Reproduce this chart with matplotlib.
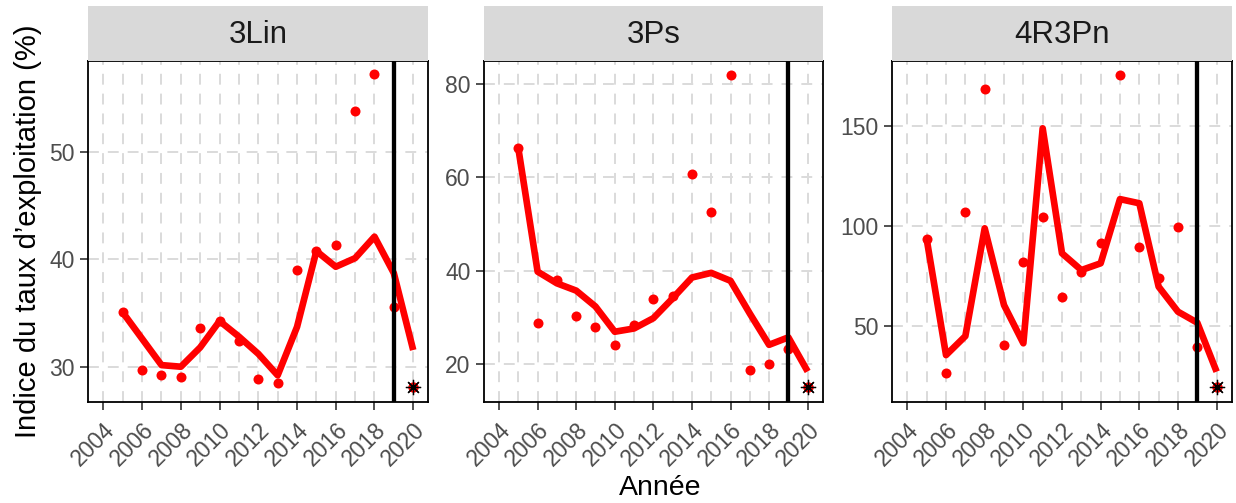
import matplotlib
matplotlib.use("Agg")
import matplotlib.pyplot as plt
import numpy as np

plt.rcParams['font.family'] = ['Liberation Sans', 'DejaVu Sans']

# data
years = list(range(2005, 2021))
obs_years = list(range(2005, 2020))
stocks = ["3Lin", "3Ps", "4R3Pn"]

pts_3lin = [35.05, 29.7, 29.2, 29.0, 33.6, 34.3, 32.4, 28.9, 28.5, 39.0, 40.8, 41.3, 53.8, 57.2, 35.6]
pts_3ps = [66.15, 28.7, 38.0, 30.3, 28.0, 24.1, 28.3, 33.8, 34.6, 60.7, 52.5, 81.9, 18.7, 19.9, 23.1]
pts_4r3pn = [93.2, 26.2, 107.0, 168.5, 40.3, 81.7, 104.5, 64.5, 77.0, 91.2, 175.3, 89.5, 73.7, 99.5, 39.5]

line_3lin = [35.05, 32.6, 30.15, 30.0, 31.8, 34.25, 32.8, 31.2, 29.2, 33.7, 40.76, 39.3, 40.1, 42.1, 38.7, 31.55]
line_3ps = [66.15, 39.76, 37.26, 35.7, 32.3, 26.9, 27.6, 29.8, 34.05, 38.5, 39.5, 37.8, 30.8, 24.1, 25.7, 18.4]
line_4r3pn = [93.2, 35.3, 44.8, 98.7, 60.3, 41.2, 148.7, 86.2, 77.8, 81.2, 113.3, 111.2, 69.5, 57.0, 51.5, 27.0]

star_year = 2020
star_vals = [28.1, 15.0, 19.2]
ref_year = 2019

yticks = [[30, 40, 50], [20, 40, 60, 80], [50, 100, 150]]
ylims = [(26.69, 58.47), (11.8, 84.9), (11.7, 182.5)]
xticks = list(range(2004, 2021, 2))

points = [pts_3lin, pts_3ps, pts_4r3pn]
lines = [line_3lin, line_3ps, line_4r3pn]

W, H = 1236, 503
fig = plt.figure(figsize=(W / 100, H / 100), dpi=100)

lefts = [88.3, 484.0, 892.3]
rights = [428.3, 822.7, 1231.7]
top, bottom = 60.7, 402.3
strip_top = 6.0
grid_ls = (0, (5.6, 4.6))

for i in range(3):
    x0 = lefts[i] / W
    w = (rights[i] - lefts[i]) / W
    ax = fig.add_axes([x0, 1 - bottom / H, w, (bottom - top) / H])

    # grid: every year on x, major ticks on y
    for yr in range(2004, 2021):
        ax.axvline(yr, color='#DBDBDB', lw=1.4, ls=grid_ls, zorder=0)
    for yt in yticks[i]:
        ax.axhline(yt, color='#DBDBDB', lw=1.4, ls=grid_ls, zorder=0)

    ax.plot(years, lines[i], color='#FF0000', lw=4.8,
            solid_capstyle='butt', solid_joinstyle='round', zorder=2)
    ax.scatter(obs_years, points[i], s=52, color='#FF0000', lw=0, zorder=3)
    ax.axvline(ref_year, color='black', lw=3.1, zorder=4)
    ax.plot([star_year], [star_vals[i]], 'o', color='#FF0000', ms=7.5, mew=0, zorder=5)
    ax.plot([star_year], [star_vals[i]], marker=(8, 2, 0), color='black', ms=11, mew=0.9,
            ls='none', zorder=6)

    ax.set_xlim(2003.22, 2020.78)
    ax.set_ylim(*ylims[i])
    ax.set_xticks(xticks)
    ax.set_xticklabels([str(t) for t in xticks], rotation=45, ha='right', va='top',
                       rotation_mode='anchor')
    ax.set_yticks(yticks[i])
    ax.tick_params(axis='both', length=5.8, width=1.2, color='#333333',
                   labelsize=16.5, labelcolor='#4D4D4D', pad=4)
    ax.tick_params(axis='x', pad=5.5)
    for sp in ax.spines.values():
        sp.set_linewidth(1.3)
        sp.set_color('black')

    # facet strip
    sax = fig.add_axes([x0, 1 - top / H, w, (top - strip_top) / H])
    sax.set_facecolor('#D9D9D9')
    sax.set_xticks([])
    sax.set_yticks([])
    for sp in sax.spines.values():
        sp.set_visible(False)
    sax.text(0.5, 0.47, stocks[i], ha='center', va='center', fontsize=22.5,
             color='#1A1A1A', transform=sax.transAxes)

fig.text(28 / W, 1 - 231 / H, "Indice du taux d\u2019exploitation (%)", rotation=90,
         ha='center', va='center', fontsize=21)
fig.text(660 / W, 1 - 488 / H, "Ann\u00e9e", ha='center', va='center', fontsize=20.5)

fig.savefig("out.png", dpi=100)
